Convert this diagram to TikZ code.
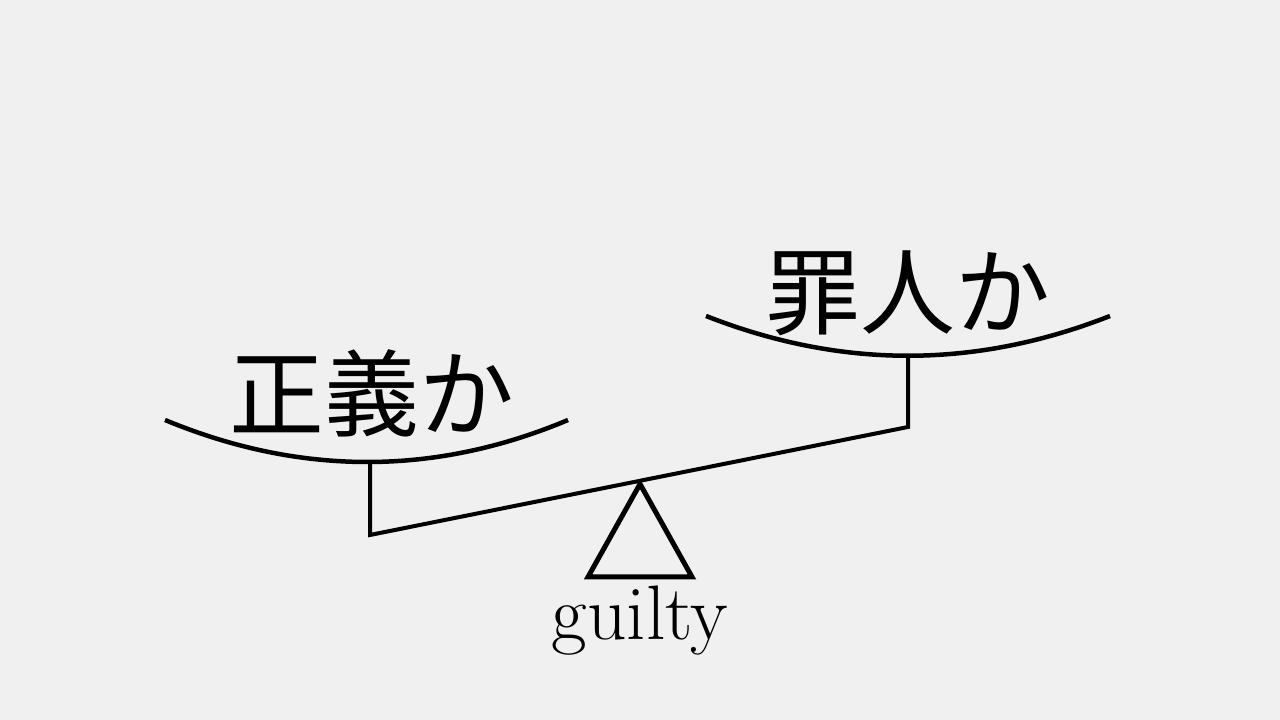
\documentclass[tikz,border=0pt]{standalone}
\usepackage{fontspec}
\newfontfamily\jpfont{Noto Sans CJK JP}
\definecolor{bggray}{HTML}{F0F0F0}
\tikzstyle{every picture}+=[remember picture]
\tikzstyle{beam}=[line width=0.04cm]
\tikzstyle{pan}=[line width=0.045cm]
\tikzstyle{word}=[font=\jpfont\fontsize{27}{27}\selectfont, inner sep=0pt]

\begin{document}
\begin{tikzpicture}
		\fill[bggray] (0,0) rectangle (12.8,7.2);
		\useasboundingbox (0,0) rectangle (12.8,7.2);
		% pans
		\draw[pan] (1.65,3.00) .. controls (3.00,2.44) and (4.35,2.44) .. (5.68,3.00);
		\draw[pan] (7.06,4.04) .. controls (8.41,3.51) and (9.75,3.51) .. (11.10,4.04);
		\coordinate (L) at (3.70,2.58);
		\coordinate (R) at (9.08,3.65);
		\coordinate (A) at (3.70,1.85);
		\coordinate (B) at (9.08,2.93);
		\draw[beam] (L) -- (A) -- (B) -- (R);
		% pivot
		\draw[line width=0.05cm, line join=miter] (6.40,2.36) -- (5.88,1.43) -- (6.92,1.43) -- cycle;
		\node[word] (left) at (3.72,3.27) {正義か};
		\node[word] (right) at (9.08,4.27) {罪人か};
		\node[anchor=base, inner sep=0pt, font=\fontsize{22}{22}\selectfont] (guilty) at (6.40,0.80) {guilty};
\end{tikzpicture}
\end{document}
